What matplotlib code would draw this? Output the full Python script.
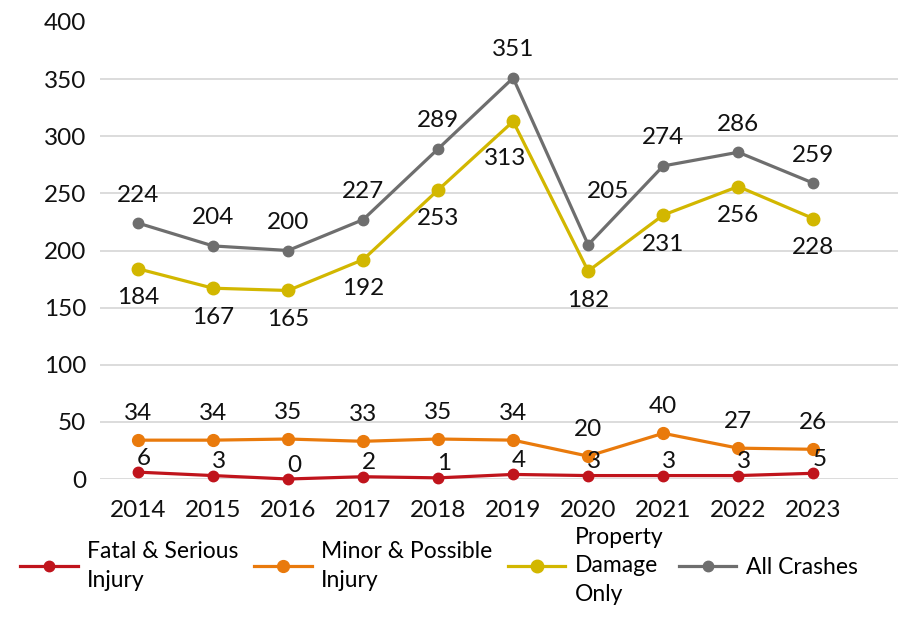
import matplotlib
matplotlib.use("Agg")
import matplotlib.pyplot as plt

plt.rcParams['font.family'] = ['Lato', 'DejaVu Sans']

years = ["2014", "2015", "2016", "2017", "2018", "2019", "2020", "2021", "2022", "2023"]
fatal_serious = [6, 3, 0, 2, 1, 4, 3, 3, 3, 5]
minor_possible = [34, 34, 35, 33, 35, 34, 20, 40, 27, 26]
property_damage = [184, 167, 165, 192, 253, 313, 182, 231, 256, 228]
all_crashes = [224, 204, 200, 227, 289, 351, 205, 274, 286, 259]

series_names = ["Fatal & Serious\nInjury", "Minor & Possible\nInjury",
                "Property\nDamage\nOnly", "All Crashes"]
colors = ["#C0141C", "#E97A0C", "#D2B700", "#6E6E6E"]

fig = plt.figure(figsize=(9.05, 6.17), dpi=100)
ax = fig.add_axes([100 / 905, 138 / 617, 798 / 905, 457 / 617])

x = list(range(len(years)))
ax.set_xlim(-0.507, 10.13)
ax.set_ylim(0, 400)

for y in range(0, 400, 50):
    ax.axhline(y, color="#D9D9D9", lw=1.3, zorder=0)

series = [fatal_serious, minor_possible, property_damage, all_crashes]
marker_sizes = [7.5, 8.5, 9.0, 7.5]
handles = []
for vals, c, ms, name in zip(series, colors, marker_sizes, series_names):
    h, = ax.plot(x, vals, color=c, lw=2.3, marker="o", ms=ms, mec=c, mfc=c,
                 label=name, zorder=3, clip_on=False)
    handles.append(h)

label_fs = 17.5
# label placement offsets in pixels
def put_labels(vals, dx, dy, special=None):
    for i, v in enumerate(vals):
        ox, oy = dx, dy
        if special and i in special:
            ox, oy = special[i]
        ax.annotate(str(v), (i, v), xytext=(ox, oy), textcoords="offset pixels",
                    ha="center", va="center", fontsize=label_fs, color="#111111",
                    zorder=5)

put_labels(all_crashes, 0, 28, special={6: (20, 53)})
put_labels(property_damage, 0, -29, special={5: (-8, -37)})
put_labels(minor_possible, 0, 27)
put_labels(fatal_serious, 6, 14)

for s in ax.spines.values():
    s.set_visible(False)
ax.set_xticks(x)
ax.set_xticklabels(years)
ax.set_yticks(range(0, 401, 50))
ax.tick_params(axis="both", length=0, labelsize=17.5, colors="#111111")
ax.tick_params(axis="y", pad=10)
ax.tick_params(axis="x", pad=15)

leg = fig.legend(handles=handles, labels=series_names, loc="center",
                 bbox_to_anchor=(0.485, 51 / 617), ncol=4, frameon=False,
                 fontsize=16.5, handlelength=2.5, handletextpad=0.4,
                 columnspacing=0.7, labelspacing=0.2)
for t in leg.get_texts():
    t.set_linespacing(1.45)

fig.savefig("out.png", dpi=100)
